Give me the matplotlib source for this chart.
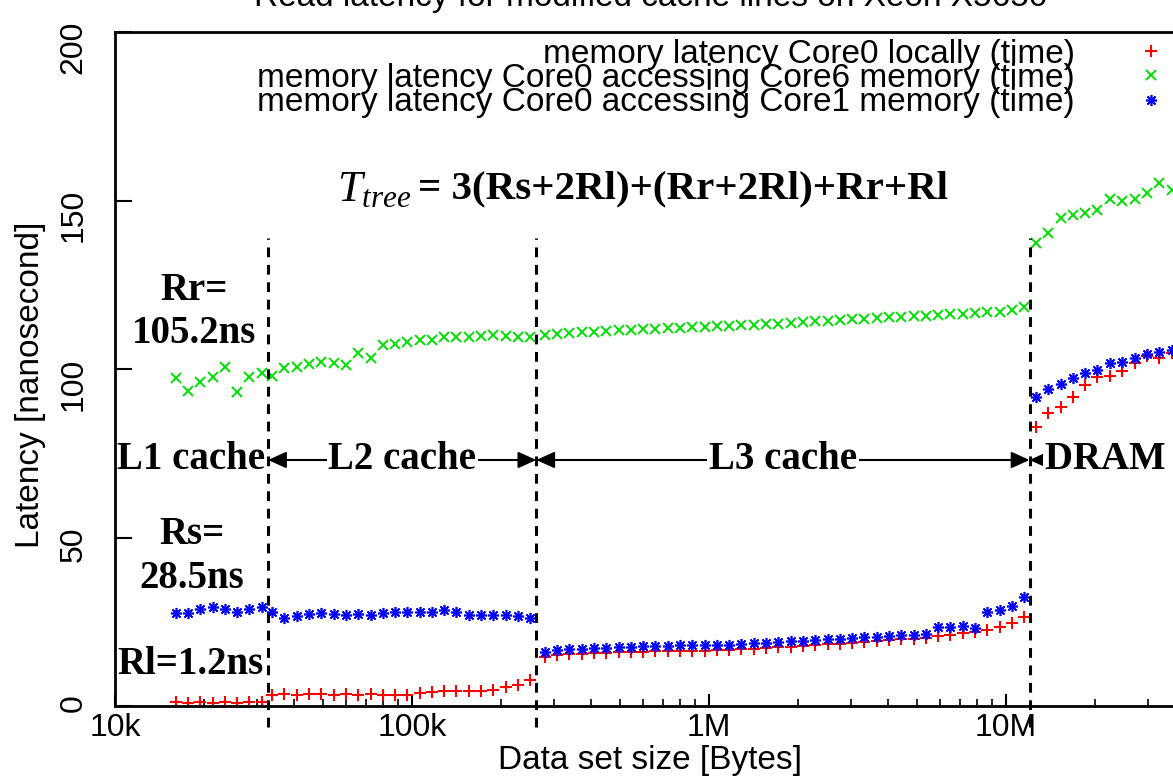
import numpy as np
import matplotlib
matplotlib.use('Agg')
import matplotlib.pyplot as plt

plt.rcParams['font.family'] = ['Liberation Sans', 'DejaVu Sans']
plt.rcParams['mathtext.fontset'] = 'custom'
plt.rcParams['mathtext.it'] = 'Liberation Serif:italic'
plt.rcParams['mathtext.rm'] = 'Liberation Serif'

# data set sizes (kB) for each cache region
size_l1 = [16.0, 17.6, 19.4, 21.3, 23.4, 25.8, 28.3, 31.2]
size_l2 = [33.8, 37.2, 40.9, 45.0, 49.5, 54.5, 59.9, 65.9, 72.5, 79.8, 87.7,
           96.5, 106, 117, 128, 141, 156, 171, 188, 207, 228, 250]
size_l3 = [280, 308, 339, 373, 410, 451, 496, 545, 600, 660, 726, 798, 878,
           966, 1063, 1169, 1286, 1415, 1556, 1712, 1883, 2071, 2278, 2506,
           2757, 3032, 3336, 3669, 4036, 4440, 4884, 5372, 5909, 6500, 7150,
           7865, 8652, 9517, 10469, 11516]
size_dram = [12600, 13900, 15300, 16800, 18500, 20300, 22400, 24600, 27100,
             29800, 32800, 36100]

# latency (ns): core0 locally
local_l1 = [1.2, 1.0, 1.1, 1.0, 1.1, 1.0, 1.1, 1.3]
local_l2 = [3.3, 3.5, 3.4, 3.5, 3.5, 3.4, 3.5, 3.4, 3.5, 3.4, 3.4, 3.2, 4.0,
            4.3, 4.4, 4.4, 4.5, 4.4, 4.7, 5.5, 6.3, 7.6]
local_l3 = [14.6, 15.0, 15.3, 15.5, 15.6, 15.8, 15.9, 16.0, 16.1, 16.2,
            16.3, 16.3, 16.4, 16.4, 16.5, 16.6, 16.8, 17.0, 17.2, 17.4,
            17.6, 17.8, 18.0, 18.3, 18.5, 18.7, 19.0, 19.2, 19.5, 19.8,
            20.0, 20.2, 20.8, 21.2, 21.6, 22.0, 22.6, 23.5, 24.6, 26.5]
local_dram = [82.8, 86.9, 88.7, 91.7, 95.3, 97.6, 97.9, 99.4, 101.8, 103.9,
              103.3, 104.7]

# core0 accessing core6 memory
core6_l1 = [97.3, 93.5, 96.1, 97.6, 100.6, 93.2, 97.6, 98.8]
core6_l2 = [97.9, 100.3, 100.6, 101.5, 102.1, 101.8, 101.2, 104.7, 103.3,
            107.1, 107.4, 108.0, 108.6, 108.6, 109.5, 109.5, 109.5, 109.8,
            110.1, 109.8, 109.5, 109.5]
core6_l3 = [110.1, 110.4, 110.6, 110.9, 111.1, 111.3, 111.5, 111.7, 111.8,
            112.0, 112.1, 112.3, 112.4, 112.5, 112.7, 112.8, 113.0, 113.2,
            113.4, 113.5, 113.7, 113.9, 114.1, 114.3, 114.5, 114.7, 114.9,
            115.1, 115.3, 115.5, 115.6, 115.8, 116.0, 116.2, 116.4, 116.6,
            116.8, 117.0, 117.4, 118.5]
core6_dram = [137.4, 140.4, 144.8, 145.7, 146.3, 147.2, 150.4, 149.9, 150.4,
              152.2, 155.2, 153.1]

# core0 accessing core1 memory
core1_l1 = [27.7, 27.5, 28.7, 29.5, 28.7, 28.0, 28.7, 29.5]
core1_l2 = [28.0, 26.0, 26.7, 27.3, 27.5, 27.3, 27.0, 27.3, 27.0, 27.7, 28.0,
            28.0, 28.0, 28.0, 28.5, 28.0, 27.0, 27.0, 27.0, 27.0, 26.7, 26.0]
core1_l3 = [16.1, 16.5, 16.8, 17.0, 17.2, 17.3, 17.5, 17.6, 17.7, 17.8,
            17.9, 18.0, 18.0, 18.1, 18.1, 18.2, 18.4, 18.6, 18.8, 19.0,
            19.2, 19.4, 19.6, 19.8, 20.0, 20.2, 20.4, 20.6, 20.8, 21.0,
            21.2, 21.4, 23.3, 23.5, 23.6, 23.2, 27.8, 28.6, 29.8, 32.4]
core1_dram = [91.7, 94.1, 95.5, 97.3, 98.8, 99.7, 101.8, 102.1, 103.3, 104.5,
              105.0, 105.6]

cache_bounds = [32768, 262144, 12000000]
labels = ['memory latency Core0 locally (time)',
          'memory latency Core0 accessing Core6 memory (time)',
          'memory latency Core0 accessing Core1 memory (time)']

sizes = np.array(size_l1 + size_l2 + size_l3 + size_dram) * 1000
local = local_l1 + local_l2 + local_l3 + local_dram
core6 = core6_l1 + core6_l2 + core6_l3 + core6_dram
core1 = core1_l1 + core1_l2 + core1_l3 + core1_dram

fig = plt.figure(figsize=(11.73, 7.79), dpi=100)
ax = fig.add_axes([115 / 1173, 1 - 706 / 779, 1098.6 / 1173, 674 / 779])

ax.plot(sizes, local, ls='none', marker='+', color='#ff0000', ms=8, mew=1.5, label=labels[0])
ax.plot(sizes, core6, ls='none', marker='x', color='#00e000', ms=7.5, mew=1.4, label=labels[1])
ax.plot(sizes, core1, ls='none', marker=(8, 2, 0), color='#0000ff', ms=8, mew=1.2, label=labels[2])

ax.set_xscale('log')
ax.set_xlim(1e4, 5e7)
ax.set_ylim(0, 200)
ax.set_xticks([1e4, 1e5, 1e6, 1e7])
ax.set_xticklabels(['10k', '100k', '1M', '10M'])
ax.set_yticks([0, 50, 100, 150, 200])
ax.tick_params(axis='y', direction='in', length=12, width=1.5, labelsize=23,
               pad=19, labelrotation=90, right=False)
ax.tick_params(axis='x', which='major', direction='in', length=9, width=1.5,
               labelsize=23, pad=5, top=False)
ax.tick_params(axis='x', which='minor', direction='in', length=5, width=1.2, top=False)
for sp in ax.spines.values():
    sp.set_linewidth(2)

ax.set_xlabel('Data set size [Bytes]', fontsize=24)
ax.xaxis.set_label_coords(650 / 1173, 1 - 745 / 779, transform=fig.transFigure)
ax.set_ylabel('Latency [nanosecond]', fontsize=24)
ax.yaxis.set_label_coords(46 / 1173, 1 - 385 / 779, transform=fig.transFigure)
fig.text(651 / 1173, 1 - 6 / 779, 'Read latency for modified cache lines on Xeon X5650',
         ha='center', va='baseline', fontsize=24)

leg = ax.legend(loc='upper right', bbox_to_anchor=(0.964, 1.0), markerfirst=False,
                frameon=False, fontsize=24, labelspacing=-0.2, handlelength=1.0,
                handletextpad=1.78, borderpad=0, borderaxespad=0.2)

# cache boundaries
ax.vlines(cache_bounds, -6.2, 139, colors='black', linestyles=(0, (3.2, 2.5)),
          lw=2.2, clip_on=False, zorder=4)

serif = dict(family='Liberation Serif', weight='bold', fontsize=28)
arrow = dict(arrowstyle='<|-|>,head_length=0.55,head_width=0.25', color='black',
             lw=1.5, shrinkA=0, shrinkB=0, mutation_scale=20)
box = dict(facecolor='white', edgecolor='none', pad=1)
y_arr = 73
ax.annotate('', xy=(cache_bounds[0], y_arr), xytext=(cache_bounds[1], y_arr), arrowprops=arrow)
ax.annotate('', xy=(cache_bounds[1], y_arr), xytext=(cache_bounds[2], y_arr), arrowprops=arrow)
ax.annotate('', xy=(cache_bounds[2], y_arr), xytext=(5e7, y_arr), arrowprops=arrow)
ax.text(32000, y_arr, 'L1 cache', ha='right', va='center', **serif)
ax.text(np.sqrt(cache_bounds[0] * cache_bounds[1]), y_arr, 'L2 cache', ha='center',
        va='center', bbox=box, **serif)
ax.text(np.sqrt(cache_bounds[1] * cache_bounds[2]), y_arr, 'L3 cache', ha='center',
        va='center', bbox=box, **serif)
ax.text(13.5e6, y_arr, 'DRAM memory', ha='left', va='center', bbox=box, **serif)

ax.text(18.4e3, 117, 'Rr=\n105.2ns', ha='center', va='center', linespacing=1.2, **serif)
ax.text(18.2e3, 44.5, 'Rs=\n28.5ns', ha='center', va='center', linespacing=1.25, **serif)
ax.text(17.9e3, 12.2, 'Rl=1.2ns', ha='center', va='center', **serif)
ax.text(56e3, 153, r'$T_{tree}$', ha='left', va='center', family='Liberation Serif', fontsize=32)
ax.text(1.05e5, 153.5, '= 3(Rs+2Rl)+(Rr+2Rl)+Rr+Rl', ha='left', va='center',
        family='Liberation Serif', weight='bold', fontsize=29.5)

fig.savefig('out.png', dpi=100)
